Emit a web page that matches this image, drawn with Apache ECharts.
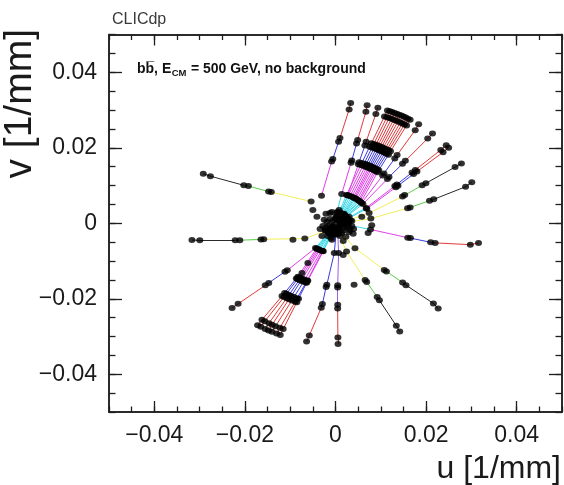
<!DOCTYPE html>
<html>
<head>
<meta charset="utf-8">
<script src="https://cdn.jsdelivr.net/npm/echarts@6/dist/echarts.min.js"></script>
<style>
  html, body { margin: 0; padding: 0; background: #ffffff; }
  #chart { width: 564px; height: 485px; }
</style>
</head>
<body>
<div id="chart"></div>
<script>
// Conformal radius (1/R) of each barrel layer, outermost first:
// vertex double layers, then the inner and outer tracker layers.
const layerRadius = [0.0320, 0.0303, 0.0226, 0.0216, 0.0170, 0.0164, 0.0079, 0.0029, 0.0018, 0.0012];

// Hit azimuth in degrees on each layer above (null = no hit), one row per track.
const upperJetAngles = [
  [84.0, 84.3, 87.5, 88.2, 92.0, 93.0, 113, null, null, null],
  [77.4, 77.2, 77.5, 77.6, 77.8, 77.9, 80, 84, 86, 88],
  [73.0, 72.9, 72.6, 72.5, 72.2, 72.1, 70, 67, 66, 65],
  [69.0, 69.1, 69.5, 69.6, 70.0, 70.1, 72, 75, 77, 78],
  [68.0, 68.0, 68.1, 68.1, 68.2, 68.3, 69, 70, 71, 72],
  [67.0, 67.0, 66.8, 66.8, 66.6, 66.5, 66, 65, 64, 63],
  [66.0, 65.9, 65.6, 65.5, 65.1, 65.0, 63, 60, 58, 56],
  [65.0, 64.9, 64.4, 64.3, 63.8, 63.6, 60, 56, 53, 50],
  [64.0, 63.9, 63.3, 63.2, 62.6, 62.4, 58, 52, 48, 45],
  [63.0, 62.9, 62.2, 62.0, 61.4, 61.2, 56, 49, 45, 42],
  [62.0, 61.8, 61.0, 60.8, 60.0, 59.7, 53, 45, 41, 38],
  [61.0, 60.8, 59.8, 59.6, 58.6, 58.3, 50, 42, 38, 35],
  [60.0, 59.8, 58.7, 58.4, 57.3, 57.0, 48, 40, 36, 33],
  [59.0, 58.8, 57.5, 57.2, 55.8, 55.5, 45, 36, 32, 30],
  [55.0, 54.5, 53.0, 52.7, 51.0, 50.6, 43, 38, 36, 35],
  [48.0, 47.8, 47.0, 46.8, 46.0, 45.7, 40, 36, 35, 34],
  [40.2, 39.9, 38.7, 38.5, 37.2, 37.0, 31, 27, 25, 24],
  [38.7, 38.4, 37.3, 37.1, 35.8, 35.6, 29, 24, 22, 21],
  [-9.4, -10.8, -13.3, -13.5, -13.4, -13.5, -12, -10, -9, -8]
];

const lowerJetAngles = [
  [237.5, 237.6, 238.5, 238.7, 239.4, 239.6, 238, 236, 235, 234],
  [239.0, 239.0, 239.8, 239.9, 240.5, 240.7, 240, 239, 238, 238],
  [241.0, 241.0, 241.5, 241.6, 242.0, 242.1, 242, 242, 242, 242],
  [242.5, 242.5, 243.0, 243.1, 243.5, 243.6, 244, 245, 246, 246],
  [244.0, 244.1, 244.8, 244.9, 245.5, 245.6, 247, 249, 250, 251],
  [246.0, 246.1, 246.8, 246.9, 247.5, 247.6, 249, 252, 254, 255],
  [247.6, 247.6, 247.8, 247.8, 248.0, 248.1, 250, 254, 256, 258],
  [224.5, 224.8, 226.7, 227.0, 229.0, 229.5, 236, 240, 242, 243]
];

// Isolated tracks reconstructed in the later passes
const isolatedTrackAngles = [
  [155.8, 155.7, 153.6, 152.9, 150.3, 149.8, 133, null, null, null],
  [188.0, 188.6, 191.5, 192.0, 194.6, 195.0, 211, 222, 228, 232],
  [29.7, 29.4, 28.0, 27.7, 26.0, 25.6, 20, 16, 15, 14],
  [19.9, 18.6, 16.3, 16.1, 14.3, 14.1, 9, 6, 5, 4],
  [-63.7, -63.7, -64.6, -64.8, -66.1, -66.5, -72, -76, -78, -80],
  [-44.9, -44.5, -46.5, -46.7, -48.6, -49.0, -57, -62, -64, -65]
];

const verticalTrackAngles = [
  [271.0, 271.0, 271.2, 271.3, 271.6, 271.7, 275, 280, 283, 285]
];

const steepTrackAngles = [
  [258.5, 259.0, 262.0, 262.3, 263.0, 263.3, 268, 272, 274, 275]
];

// Hits not attached to any track
const looseHitsU = [0.0041, -0.0094, -0.0050, -0.0041, 0.0058, 0.0080, 0.0072, -0.0074, -0.0061, 0.0017];
const looseHitsV = [-0.0163, -0.0044, 0.0035, 0.0017, 0.0017, -0.0005, -0.0026, -0.0132, -0.0105, -0.0084];

// Dense hits of the outer tracker around the origin
const coreHitsU = [-0.0021, -0.0008, 0.0006, 0.0019, 0.0030, -0.0025, -0.0012, 0.0001, 0.0014, 0.0028,
                   -0.0028, -0.0014, -0.0001, 0.0012, 0.0025, 0.0036, -0.0023, -0.0010, 0.0003, 0.0017,
                   0.0030, -0.0017, -0.0003, 0.0010, 0.0023, -0.0008, -0.0030, 0.0040, 0.0008, 0.0033,
                   -0.0012, 0.0010, 0.0023, 0.0036, -0.0019, -0.0006, 0.0008, 0.0021, -0.0034, -0.0021,
                   0.0019, 0.0032, 0.0001, -0.0010, 0.0017, 0.0039];
const coreHitsV = [0.0025, 0.0030, 0.0030, 0.0025, 0.0017, 0.0009, 0.0011, 0.0014, 0.0011, 0.0003,
                   -0.0007, -0.0005, -0.0002, -0.0005, -0.0010, -0.0007, -0.0020, -0.0018, -0.0015, -0.0020,
                   -0.0023, -0.0034, -0.0031, -0.0034, -0.0036, -0.0044, -0.0034, -0.0015, 0.0035, 0.0008,
                   0.0027, 0.0022, 0.0014, 0.0006, 0.0003, 0.0006, 0.0006, 0.0001, -0.0015, -0.0012,
                   -0.0012, -0.0018, -0.0026, -0.0039, -0.0047, -0.0028];

const majorTicks = [-0.04, -0.02, 0, 0.02, 0.04];

// Segment colours, indexed by the outer layer of each segment
const RED = '#e23a3a', BLUE = '#3a3ae0', MAG = '#e040e8', CYAN = '#3ad8e8',
      YEL = '#f2ef5a', GRN = '#5ccc4a', BLK = '#2a2a2a', VIO = '#9a5ee6';
const jetPalette = [RED, RED, BLUE, BLUE, MAG, MAG, CYAN, CYAN, CYAN];
const isolatedPalette = [BLK, BLK, GRN, GRN, YEL, YEL, YEL, YEL, YEL];
const verticalPalette = [RED, RED, VIO, VIO, VIO, VIO, VIO, VIO, VIO];
const steepPalette = [RED, RED, BLUE, BLUE, BLUE, BLUE, BLUE, BLUE, BLUE];

const segments = [];
const hits = [];

function addTracks(rows, palette) {
  rows.forEach(angles => {
    let prev = null;
    angles.forEach((a, i) => {
      if (a === null) { prev = null; return; }
      const t = a * Math.PI / 180;
      const r = layerRadius[i];
      const p = [r * Math.cos(t), r * Math.sin(t)];
      hits.push(p);
      if (prev) {
        segments.push({ coords: [prev.p, p], lineStyle: { color: palette[prev.i] } });
      }
      prev = { p: p, i: i };
    });
  });
}

addTracks(isolatedTrackAngles, isolatedPalette);
addTracks(steepTrackAngles, steepPalette);
addTracks(verticalTrackAngles, verticalPalette);
addTracks(lowerJetAngles, jetPalette);
addTracks(upperJetAngles, jetPalette);
looseHitsU.forEach((u, i) => hits.push([u, looseHitsV[i]]));
coreHitsU.forEach((u, i) => hits.push([u, coreHitsV[i]]));

const FONT = '"Liberation Sans", Arial, Helvetica, sans-serif';
const AXIS_COLOR = '#1e1e1e';

function fmt(v) {
  if (Math.abs(v) < 1e-9) return '0';
  return (v < 0 ? '\u2212' : '') + Math.abs(v).toFixed(2);
}

function makeAxis(position, isX, major) {
  const ax = {
    type: 'value',
    position: position,
    min: -0.05,
    max: 0.05,
    interval: 0.005,
    axisLine: { show: true, onZero: false, lineStyle: { color: AXIS_COLOR, width: 1.5 } },
    splitLine: { show: false },
    axisTick: {
      show: true,
      inside: true,
      length: major ? (isX ? 11 : 13) : (isX ? 5.5 : 6.5),
      lineStyle: { color: AXIS_COLOR, width: 1.3 }
    },
    axisLabel: { show: false }
  };
  if (major) {
    ax.axisTick.customValues = majorTicks;
    const showLabels = position === 'bottom' || position === 'left';
    ax.axisLabel = {
      show: showLabels,
      customValues: majorTicks,
      formatter: fmt,
      fontFamily: FONT,
      fontSize: 23,
      color: '#1a1a1a',
      margin: 12
    };
  }
  return ax;
}

// Annotation pieces with a subscript: measure the widths to place them in a row
const measureCtx = document.createElement('canvas').getContext('2d');
const noteFont = 'bold 14px ' + FONT;
const subFont = 'bold 9.5px ' + FONT;
const notePart1 = 'bb\u0305, E';
const noteSub = 'CM';
const notePart2 = ' = 500 GeV, no background';
measureCtx.font = noteFont;
const w1 = measureCtx.measureText(notePart1).width;
measureCtx.font = subFont;
const wSub = measureCtx.measureText(noteSub).width;
const noteX = 137, noteY = 69;

const chart = echarts.init(document.getElementById('chart'), null, { renderer: 'canvas' });

chart.setOption({
  animation: false,
  backgroundColor: '#ffffff',
  grid: { left: 109, right: 2, top: 34.5, bottom: 73, containLabel: false },
  xAxis: [
    makeAxis('bottom', true, false),
    makeAxis('bottom', true, true),
    makeAxis('top', true, false),
    makeAxis('top', true, true)
  ],
  yAxis: [
    makeAxis('left', false, false),
    makeAxis('left', false, true),
    makeAxis('right', false, false),
    makeAxis('right', false, true)
  ],
  series: [
    {
      type: 'lines',
      coordinateSystem: 'cartesian2d',
      xAxisIndex: 0,
      yAxisIndex: 0,
      silent: true,
      z: 2,
      lineStyle: { width: 1, opacity: 1 },
      data: segments
    },
    {
      type: 'scatter',
      xAxisIndex: 0,
      yAxisIndex: 0,
      silent: true,
      z: 3,
      symbol: 'circle',
      symbolSize: [7, 6],
      itemStyle: { color: '#000000' },
      data: hits
    }
  ],
  graphic: [
    {
      type: 'text',
      x: 112,
      y: 20,
      style: {
        text: 'CLICdp',
        font: '16px ' + FONT,
        fill: '#3a3a3a',
        textAlign: 'left',
        textVerticalAlign: 'middle'
      }
    },
    {
      type: 'text',
      x: noteX,
      y: noteY,
      style: { text: notePart1, font: noteFont, fill: '#111111', textAlign: 'left', textVerticalAlign: 'middle' }
    },
    {
      type: 'text',
      x: noteX + w1 + 0.5,
      y: noteY + 4,
      style: { text: noteSub, font: subFont, fill: '#111111', textAlign: 'left', textVerticalAlign: 'middle' }
    },
    {
      type: 'text',
      x: noteX + w1 + wSub + 1,
      y: noteY,
      style: { text: notePart2, font: noteFont, fill: '#111111', textAlign: 'left', textVerticalAlign: 'middle' }
    },
    {
      type: 'text',
      x: 561,
      y: 469,
      style: {
        text: 'u [1/mm]',
        font: '32px ' + FONT,
        fill: '#1a1a1a',
        textAlign: 'right',
        textVerticalAlign: 'middle'
      }
    },
    {
      type: 'text',
      x: 20,
      y: 29,
      rotation: Math.PI / 2,
      style: {
        text: 'v [1/mm]',
        font: '39px ' + FONT,
        fill: '#1a1a1a',
        textAlign: 'right',
        textVerticalAlign: 'middle'
      }
    }
  ]
});
</script>
</body>
</html>
